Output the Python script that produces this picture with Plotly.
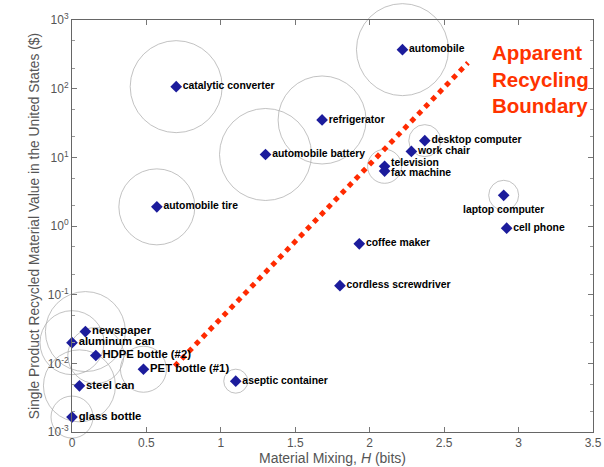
import math
import plotly.graph_objects as go

names = ["automobile", "catalytic converter", "refrigerator", "automobile battery",
         "desktop computer", "work chair", "television", "fax machine",
         "laptop computer", "cell phone", "automobile tire", "coffee maker",
         "cordless screwdriver", "newspaper", "aluminum can", "HDPE bottle (#2)",
         "PET bottle (#1)", "steel can", "aseptic container", "glass bottle"]
mixing = [2.22, 0.70, 1.68, 1.30, 2.37, 2.28, 2.10, 2.10, 2.90, 2.92, 0.57, 1.93,
          1.80, 0.09, 0.00, 0.16, 0.48, 0.05, 1.10, 0.00]
value = [370, 107, 35, 11, 17.5, 12.2, 7.4, 6.3, 2.8, 0.93, 1.9, 0.55,
         0.135, 0.029, 0.020, 0.013, 0.0082, 0.0047, 0.0055, 0.00165]
# relative circle size (bubble diameter, px)
bubble = [92, 92, 88, 92, 32, 0, 34, 0, 30, 0, 76, 0, 0, 80, 64, 56, 46, 72, 24, 42]
label_size = [10.4] * 20
for n in ["newspaper", "aluminum can", "HDPE bottle (#2)", "PET bottle (#1)", "steel can", "glass bottle"]:
    label_size[names.index(n)] = 11.3
special = {"laptop computer": "below", "television": "up", "fax machine": "down"}

boundary_x = [0.69, 2.66]
boundary_y = [0.0091, 238]

bx = [m for m, b in zip(mixing, bubble) if b > 0]
by = [v for v, b in zip(value, bubble) if b > 0]
bs = [b for b in bubble if b > 0]

FONT = "Liberation Sans, Arial"
fig = go.Figure()
fig.add_trace(go.Scatter(
    x=bx, y=by, mode="markers", cliponaxis=False, hoverinfo="skip",
    marker=dict(symbol="circle-open", size=bs, color="#a8a8a8", line=dict(width=1, color="#a8a8a8")),
    showlegend=False))
fig.add_trace(go.Scatter(
    x=boundary_x, y=boundary_y, mode="lines", cliponaxis=False,
    line=dict(color="#ff2a00", width=5, dash="dot"), showlegend=False))

norm = [i for i, n in enumerate(names) if n not in special]
spec = [i for i, n in enumerate(names) if n in special]
fig.add_trace(go.Scatter(
    x=[mixing[i] for i in norm], y=[value[i] for i in norm], mode="markers+text", cliponaxis=False,
    marker=dict(symbol="diamond", size=9, color="#1c1c9c"),
    text=["<b>" + names[i] + "</b>" for i in norm], textposition="middle right",
    textfont=dict(family=FONT, size=[label_size[i] for i in norm], color="black"),
    showlegend=False))
fig.add_trace(go.Scatter(
    x=[mixing[i] for i in spec], y=[value[i] for i in spec], mode="markers", cliponaxis=False,
    marker=dict(symbol="diamond", size=9, color="#1c1c9c"), showlegend=False))

for i in spec:
    n = names[i]
    how = special[n]
    if how == "below":
        fig.add_annotation(x=mixing[i], y=math.log10(value[i]), text="<b>" + n + "</b>",
                           showarrow=False, xanchor="center", yanchor="top", yshift=-7,
                           font=dict(family=FONT, size=10.4, color="black"))
    else:
        fig.add_annotation(x=mixing[i], y=math.log10(value[i]), text="<b>" + n + "</b>",
                           showarrow=False, xanchor="left", yanchor="middle", xshift=4,
                           yshift=4 if how == "up" else -1,
                           font=dict(family=FONT, size=10.4, color="black"))

fig.add_annotation(
    x=2.81, y=2.72, xref="x", yref="y", xanchor="left", yanchor="top", align="left",
    text="<b>Apparent<br>Recycling<br>Boundary</b>", showarrow=False,
    font=dict(family=FONT, size=20.5, color="#ff3300"))

fig.update_layout(
    width=604, height=467,
    margin=dict(l=72, r=11, t=20, b=35),
    plot_bgcolor="white", paper_bgcolor="white",
    font=dict(family=FONT, color="#555555", size=12),
    xaxis=dict(range=[0, 3.5], tickvals=[0, 0.5, 1, 1.5, 2, 2.5, 3, 3.5],
               ticktext=["0", "0.5", "1", "1.5", "2", "2.5", "3", "3.5"],
               ticks="inside", ticklen=5, tickcolor="#777", mirror="ticks", automargin=False,
               showline=True, linecolor="#666", linewidth=1, showgrid=False, zeroline=False,
               title=dict(text="Material Mixing, <i>H</i> (bits)", standoff=0,
                          font=dict(size=14, color="#555"))),
    yaxis=dict(type="log", range=[-3, 3], automargin=False,
               tickvals=[1e-3, 1e-2, 1e-1, 1, 10, 100, 1000],
               ticktext=["10<sup>-3</sup>", "10<sup>-2</sup>", "10<sup>-1</sup>", "10<sup>0</sup>",
                         "10<sup>1</sup>", "10<sup>2</sup>", "10<sup>3</sup>"],
               ticks="inside", ticklen=5, tickcolor="#777", mirror="ticks",
               minor=dict(ticks="inside", ticklen=3, tickcolor="#999", showgrid=False),
               showline=True, linecolor="#666", linewidth=1, showgrid=False, zeroline=False,
               title=dict(text="Single Product Recycled Material Value in the United States ($)",
                          standoff=4, font=dict(size=13.8, color="#555"))),
)
fig.write_html("out.html")
